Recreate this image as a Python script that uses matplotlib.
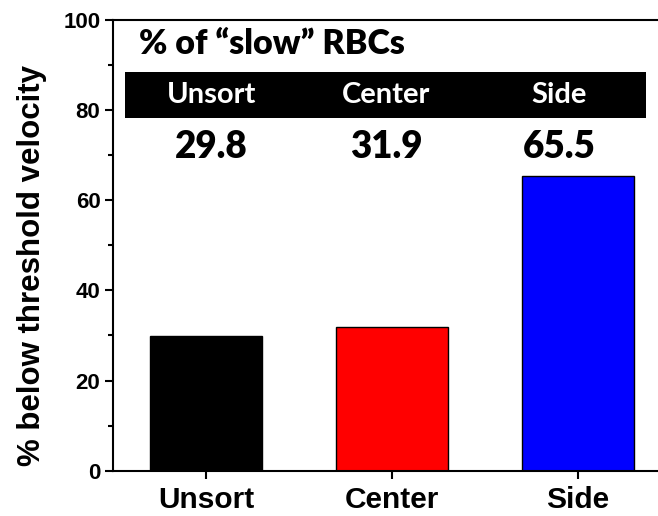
import matplotlib.pyplot as plt
from matplotlib.patches import Rectangle
from matplotlib.ticker import MultipleLocator

# Data
groups = ["Unsort", "Center", "Side"]
pct_slow = [29.8, 31.9, 65.5]
bar_colors = ["#000000", "#ff0000", "#0000ff"]
value_labels = ["29.8", "31.9", "65.5"]

fig = plt.figure(figsize=(6.58, 5.16), dpi=100)
ax = fig.add_axes([0.1717, 0.0878, 0.848, 0.8734])

x = range(len(groups))
ax.bar(x, pct_slow, width=0.6, color=bar_colors, edgecolor="black", linewidth=1.0)

ax.set_xlim(-0.5, 2.5)
ax.set_ylim(0, 100)
ax.set_xticks(list(x))
ax.set_xticklabels(groups, fontsize=21.5, fontweight="bold", family="Liberation Sans")
ax.yaxis.set_major_locator(MultipleLocator(20))
ax.yaxis.set_minor_locator(MultipleLocator(10))
for lab in ax.get_yticklabels():
    lab.set_fontsize(16)
    lab.set_fontweight("bold")
    lab.set_family("Liberation Sans")
ax.tick_params(axis="both", which="major", direction="out", length=6, width=1.5, pad=3)
ax.tick_params(axis="x", which="major", pad=5)
ax.tick_params(axis="y", which="minor", direction="out", length=3.5, width=1.5)
ax.set_ylabel("% below threshold velocity", fontsize=22.5, fontweight="bold",
              family="Liberation Sans", labelpad=6)
ax.yaxis.set_label_coords(-0.118, 0.455)

for side in ["left", "bottom", "top", "right"]:
    ax.spines[side].set_linewidth(1.5)

# inset table with the percentages
ax.text(-0.36, 92.5, "% of \u201cslow\u201d RBCs", fontsize=24.5, fontweight="heavy",
        family="Lato", va="baseline", ha="left")
ax.add_patch(Rectangle((-0.435, 78.2), 2.8, 10.2, facecolor="black", edgecolor="none"))
col_x = [0.03, 0.97, 1.9]
for cx, name, val in zip(col_x, groups, value_labels):
    ax.text(cx, 83.3, name, fontsize=21, fontweight="bold", family="Lato",
            color="white", ha="center", va="center")
    ax.text(cx, 71.8, val, fontsize=26.5, fontweight="heavy", family="Lato",
            color="black", ha="center", va="center")

fig.savefig("out.png", dpi=100)
plt.close(fig)
